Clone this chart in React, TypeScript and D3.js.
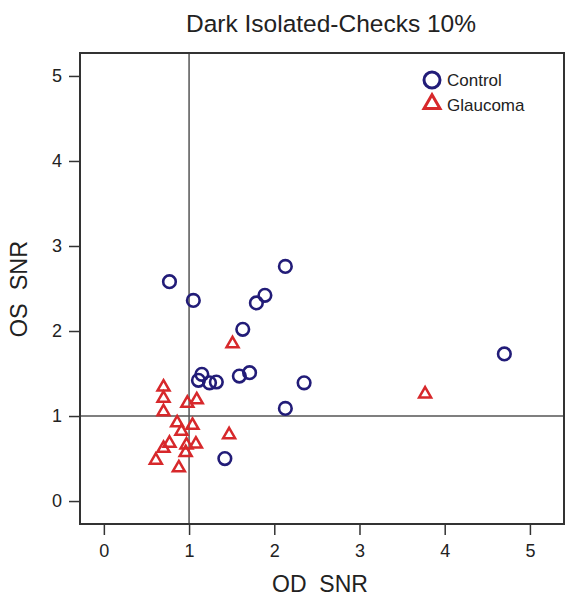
import { useEffect, useRef } from 'react'
import * as d3 from 'd3'

const chartTitle = 'Dark Isolated-Checks 10%'
const xLabel = 'OD  SNR'
const yLabel = 'OS  SNR'
const tickValues = [0, 1, 2, 3, 4, 5]

// Control group (OD SNR, OS SNR)
const controlOD = [0.77, 1.05, 1.15, 1.11, 1.24, 1.32, 1.59, 1.71, 1.63, 1.79, 1.89, 1.42, 2.13, 2.35, 2.13, 4.70]
const controlOS = [2.58, 2.36, 1.49, 1.42, 1.39, 1.40, 1.47, 1.51, 2.02, 2.33, 2.42, 0.50, 2.76, 1.39, 1.09, 1.73]

// Glaucoma group
const glaucomaOD = [1.51, 0.70, 0.70, 0.70, 0.98, 1.09, 0.86, 0.91, 1.04, 0.77, 0.70, 0.61, 0.97, 1.08, 0.96, 0.88, 1.47, 3.77]
const glaucomaOS = [1.85, 1.34, 1.21, 1.05, 1.15, 1.19, 0.92, 0.82, 0.89, 0.68, 0.62, 0.48, 0.66, 0.67, 0.57, 0.39, 0.78, 1.26]

const NAVY = '#221c78'
const RED = '#d7282b'

const Chart = () => {
  const svgRef = useRef<SVGSVGElement>(null)

  useEffect(() => {
    const width = 565
    const height = 596
    const margin = { top: 53, right: 1, bottom: 72, left: 80 }

    const svg = d3.select(svgRef.current)
    svg.selectAll('*').remove()
    svg.attr('width', width).attr('height', height)
      .style('font-family', 'Arial, "Liberation Sans", Helvetica, sans-serif')

    const x = d3.scaleLinear().domain([-0.28, 5.4]).range([margin.left, width - margin.right])
    const y = d3.scaleLinear().domain([-0.27, 5.27]).range([height - margin.bottom, margin.top])

    const [x0, x1] = x.range()
    const [y0, y1] = y.range()

    // reference lines at 1
    svg.append('line')
      .attr('x1', x(1)).attr('x2', x(1)).attr('y1', y0).attr('y2', y1)
      .attr('stroke', '#555').attr('stroke-width', 1.5)
    svg.append('line')
      .attr('x1', x0).attr('x2', x1).attr('y1', y(1)).attr('y2', y(1))
      .attr('stroke', '#555').attr('stroke-width', 1.5)

    // frame
    svg.append('rect')
      .attr('x', x0).attr('y', y1).attr('width', x1 - x0).attr('height', y0 - y1)
      .attr('fill', 'none').attr('stroke', '#333').attr('stroke-width', 2)

    const xAxis = svg.append('g')
      .attr('transform', `translate(0,${y0})`)
      .call(d3.axisBottom(x).tickValues(tickValues).tickSize(11).tickPadding(9).tickFormat(d3.format('d')))
    xAxis.select('.domain').remove()

    const yAxis = svg.append('g')
      .attr('transform', `translate(${x0},0)`)
      .call(d3.axisLeft(y).tickValues(tickValues).tickSize(11).tickPadding(7).tickFormat(d3.format('d')))
    yAxis.select('.domain').remove()

    svg.selectAll('.tick line').attr('stroke', '#333').attr('stroke-width', 1.5)
    svg.selectAll('.tick text')
      .attr('fill', '#222')
      .style('font-size', '18px')
      .style('font-family', 'Arial, "Liberation Sans", sans-serif')

    const circle = d3.symbol().type(d3.symbolCircle).size(Math.PI * 6.3 * 6.3)
    const tri = d3.symbol().type(d3.symbolTriangle).size(62)

    svg.append('g').selectAll('path')
      .data(d3.range(glaucomaOD.length))
      .join('path')
      .attr('transform', i => `translate(${x(glaucomaOD[i])},${y(glaucomaOS[i])})`)
      .attr('d', tri)
      .attr('fill', 'none').attr('stroke', RED).attr('stroke-width', 2.5)

    svg.append('g').selectAll('path')
      .data(d3.range(controlOD.length))
      .join('path')
      .attr('transform', i => `translate(${x(controlOD[i])},${y(controlOS[i])})`)
      .attr('d', circle)
      .attr('fill', 'none').attr('stroke', NAVY).attr('stroke-width', 2.6)

    // legend
    const legend = svg.append('g')
    legend.append('path')
      .attr('transform', 'translate(432,80)')
      .attr('d', d3.symbol().type(d3.symbolCircle).size(Math.PI * 8 * 8)())
      .attr('fill', 'none').attr('stroke', NAVY).attr('stroke-width', 3)
    legend.append('path')
      .attr('transform', 'translate(432,104)')
      .attr('d', d3.symbol().type(d3.symbolTriangle).size(110)())
      .attr('fill', 'none').attr('stroke', RED).attr('stroke-width', 3)
    legend.selectAll('text')
      .data(['Control', 'Glaucoma'])
      .join('text')
      .attr('x', 447)
      .attr('y', (d, i) => 80 + i * 25)
      .attr('dy', '0.35em')
      .style('font-size', '17px')
      .attr('fill', '#222')
      .text(d => d)

    svg.append('text')
      .attr('x', 331).attr('y', 32)
      .attr('text-anchor', 'middle')
      .style('font-size', '24.5px')
      .attr('fill', '#222')
      .text(chartTitle)

    svg.append('text')
      .attr('x', 320).attr('y', 592)
      .attr('text-anchor', 'middle')
      .style('font-size', '23px')
      .style('white-space', 'pre')
      .attr('fill', '#222')
      .text(xLabel)

    svg.append('text')
      .attr('transform', 'translate(27,289) rotate(-90)')
      .attr('text-anchor', 'middle')
      .style('font-size', '23.5px')
      .style('white-space', 'pre')
      .attr('fill', '#222')
      .text(yLabel)
  }, [])

  return <svg ref={svgRef} style={{ position: 'absolute', left: 0, top: 0 }}></svg>
}

export default function App() {
  return <Chart />
}
